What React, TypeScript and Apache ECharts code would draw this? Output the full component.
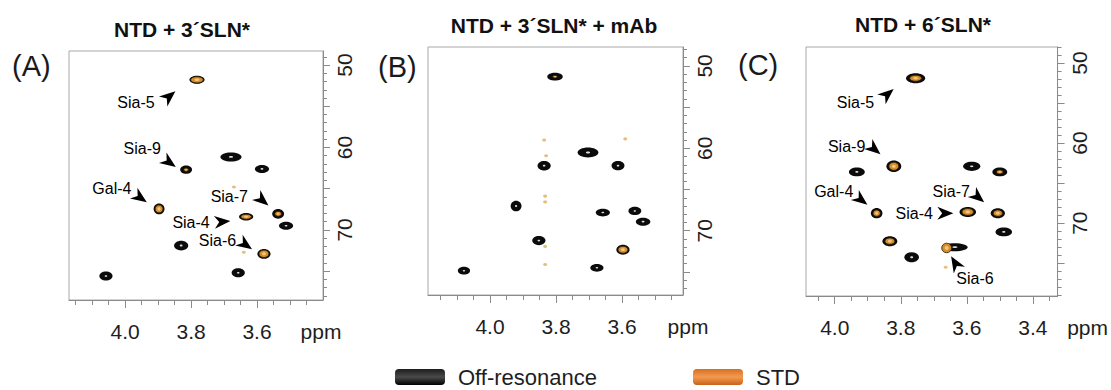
import React, { useEffect, useRef } from "react";
import * as echarts from "echarts";

const FONT = "'Liberation Sans', Arial, Helvetica, sans-serif";

// ---------- text ----------
const panelTitles = ["NTD + 3´SLN*", "NTD + 3´SLN* + mAb", "NTD + 6´SLN*"];
const panelLetters = ["(A)", "(B)", "(C)"];
const legendNames = ["Off-resonance", "STD"];

// ---------- axis ranges (1H ppm reversed, 13C ppm reversed) ----------
const xRangeA = [3.4, 4.17];
const xRangeB = [3.415, 4.188];
const xRangeC = [3.325, 4.087];
const yRangeA = [48.3, 78.5];
const yRangeB = [47.7, 77.8];
const yRangeC = [48.0, 79.1];

// ---------- tick values ----------
const xTicksAB = [3.45, 3.5, 3.55, 3.6, 3.65, 3.7, 3.75, 3.8, 3.85, 3.9, 3.95, 4.0, 4.05, 4.1, 4.15];
const xTicksC = [3.35, 3.4, 3.45, 3.5, 3.55, 3.6, 3.65, 3.7, 3.75, 3.8, 3.85, 3.9, 3.95, 4.0, 4.05];
const xLabelsAB = [3.6, 3.8, 4.0];
const xLabelsC = [3.4, 3.6, 3.8, 4.0];
const yTicks = [48, 49, 50, 51, 52, 53, 54, 55, 56, 57, 58, 59, 60, 61, 62, 63, 64, 65, 66, 67, 68, 69, 70, 71, 72, 73, 74, 75, 76, 77, 78, 79];
const yMajorTicks = [50, 55, 60, 65, 70, 75];
const yLabels = [50, 60, 70];

// ---------- peaks: [1H ppm, 13C ppm, 1H width ppm, 13C width ppm] ----------
const offResA = [
  [3.782, 51.8, 0.046, 0.97],
  [3.679, 61.15, 0.064, 1.1],
  [3.815, 62.7, 0.036, 1.0],
  [3.585, 62.6, 0.043, 0.97],
  [3.897, 67.45, 0.033, 1.3],
  [3.536, 68.05, 0.036, 1.2],
  [3.633, 68.4, 0.043, 0.9],
  [3.512, 69.5, 0.043, 0.97],
  [3.83, 71.9, 0.043, 1.2],
  [3.579, 72.9, 0.04, 1.2],
  [3.657, 75.2, 0.04, 1.1],
  [4.058, 75.6, 0.04, 1.1],
];
const stdA = [
  [3.782, 51.8, 0.038, 0.75],
  [3.815, 62.7, 0.014, 0.4],
  [3.897, 67.45, 0.024, 0.95],
  [3.536, 68.05, 0.02, 0.6],
  [3.633, 68.4, 0.032, 0.6],
  [3.579, 72.9, 0.03, 0.9],
];
const stdDotsA = [
  [3.67, 64.8],
  [3.64, 72.7],
];

const offResB = [
  [3.803, 51.3, 0.047, 0.93],
  [3.703, 60.5, 0.063, 1.2],
  [3.836, 62.1, 0.04, 1.15],
  [3.612, 62.1, 0.039, 1.1],
  [3.921, 67.0, 0.033, 1.3],
  [3.658, 67.8, 0.043, 0.93],
  [3.561, 67.6, 0.039, 1.0],
  [3.536, 68.9, 0.044, 0.97],
  [3.852, 71.2, 0.04, 1.1],
  [3.597, 72.3, 0.04, 1.2],
  [3.676, 74.5, 0.04, 0.93],
  [4.079, 74.85, 0.037, 0.93],
];
const stdB = [
  [3.803, 51.3, 0.014, 0.3],
  [3.597, 72.3, 0.03, 0.85],
];
const stdDotsB = [
  [3.836, 59.0],
  [3.83, 60.9],
  [3.833, 65.8],
  [3.833, 66.5],
  [3.833, 71.9],
  [3.833, 74.1],
  [3.59, 58.85],
];

const offResC = [
  [3.755, 51.9, 0.058, 1.25],
  [3.821, 62.9, 0.045, 1.45],
  [3.933, 63.6, 0.048, 1.1],
  [3.585, 62.9, 0.052, 1.15],
  [3.5, 63.6, 0.045, 1.1],
  [3.873, 68.75, 0.035, 1.3],
  [3.597, 68.6, 0.05, 1.25],
  [3.506, 68.75, 0.043, 1.25],
  [3.488, 71.1, 0.05, 1.1],
  [3.833, 72.25, 0.045, 1.25],
  [3.636, 73.0, 0.0775, 1.0],
  [3.767, 74.25, 0.044, 1.25],
];
const stdC = [
  [3.755, 51.9, 0.036, 0.75],
  [3.821, 62.9, 0.03, 1.0],
  [3.5, 63.6, 0.02, 0.5],
  [3.873, 68.75, 0.022, 0.8],
  [3.597, 68.6, 0.035, 0.85],
  [3.506, 68.75, 0.028, 0.8],
  [3.833, 72.25, 0.03, 0.8],
  [3.661, 73.1, 0.03, 1.2],
];
const stdDotsC = [[3.664, 75.5]];

// ---------- annotations ----------
const labelsA = [
  { name: "Sia-5", value: [3.967, 54.6] },
  { name: "Sia-9", value: [3.948, 60.1] },
  { name: "Gal-4", value: [4.04, 65.0] },
  { name: "Sia-7", value: [3.684, 65.9] },
  { name: "Sia-4", value: [3.8, 69.15] },
  { name: "Sia-6", value: [3.72, 71.3] },
];
// [1H, 13C, pointing angle in degrees]
const arrowsA = [
  [3.866, 53.8, 40],
  [3.866, 61.8, -35],
  [3.954, 66.1, -35],
  [3.584, 66.4, -40],
  [3.705, 69.0, 5],
  [3.635, 71.8, -35],
];
const labelsC = [
  { name: "Sia-5", value: [3.937, 54.9] },
  { name: "Sia-9", value: [3.964, 60.4] },
  { name: "Gal-4", value: [4.003, 66.1] },
  { name: "Sia-7", value: [3.647, 66.0] },
  { name: "Sia-4", value: [3.759, 68.75] },
  { name: "Sia-6", value: [3.575, 76.9] },
];
const arrowsC = [
  [3.84, 53.9, 40],
  [3.88, 60.75, -40],
  [3.92, 67.1, -38],
  [3.566, 66.75, -40],
  [3.665, 68.75, 0],
  [3.635, 75.0, 121],
];

const ARROW = "path://M0,0 L20,8 L0,16 L6,8 Z";

function peakRenderer(fill: string, core: string, coreRatio: number, stroke?: string) {
  return (_params: any, api: any) => {
    const x = api.value(0);
    const y = api.value(1);
    const c = api.coord([x, y]);
    const s = api.size([api.value(2), api.value(3)], [x, y]);
    const rx = Math.abs(s[0]) / 2;
    const ry = Math.abs(s[1]) / 2;
    return {
      type: "group",
      children: [
        {
          type: "ellipse",
          shape: { cx: c[0], cy: c[1], rx, ry },
          style: stroke ? { fill, stroke, lineWidth: 0.8 } : { fill },
        },
        {
          type: "ellipse",
          shape: { cx: c[0], cy: c[1], rx: Math.max(0.8, rx * coreRatio), ry: Math.max(0.6, ry * coreRatio) },
          style: { fill: core },
        },
      ],
    };
  };
}

export default function App() {
  const ref = useRef<HTMLDivElement>(null);

  useEffect(() => {
    document.body.style.margin = "0";
    const chart = echarts.init(ref.current!, undefined, { renderer: "svg" });

    const grids = [
      { left: 69, top: 51, width: 254, height: 249 },
      { left: 428, top: 47, width: 255, height: 248 },
      { left: 806, top: 47, width: 253, height: 249 },
    ];
    const xRanges = [xRangeA, xRangeB, xRangeC];
    const yRanges = [yRangeA, yRangeB, yRangeC];
    const xTicks = [xTicksAB, xTicksAB, xTicksC];
    const xLabels = [xLabelsAB, xLabelsAB, xLabelsC];
    const nameGaps = [-2, 5, 30];
    const offRes = [offResA, offResB, offResC];
    const std = [stdA, stdB, stdC];
    const stdDots = [stdDotsA, stdDotsB, stdDotsC];
    const labels = [labelsA, [], labelsC];
    const arrows = [arrowsA, [], arrowsC];
    const titleX = [182, 554, 923];
    const titleTop = [19, 15, 14];
    const letterX = [12, 378, 738];
    const letterTop = [51, 52, 50];

    const axisGrey = "#8a8a8a";
    const xAxis: any[] = [];
    const yAxis: any[] = [];
    const series: any[] = [];

    for (let i = 0; i < 3; i++) {
      xAxis.push({
        type: "value",
        gridIndex: i,
        position: "bottom",
        inverse: true,
        min: xRanges[i][0],
        max: xRanges[i][1],
        splitLine: { show: false },
        axisLine: { show: true, onZero: false, lineStyle: { color: axisGrey, width: 1 } },
        axisTick: { show: true, inside: false, length: 5, customValues: xTicks[i], lineStyle: { color: axisGrey } },
        axisLabel: {
          customValues: xLabels[i],
          formatter: (v: number) => v.toFixed(1),
          fontSize: 21,
          color: "#1e1e1e",
          fontFamily: FONT,
          margin: 21,
        },
        name: "ppm",
        nameLocation: "start",
        nameGap: nameGaps[i],
        nameMoveOverlap: false,
        nameTextStyle: { fontSize: 21, color: "#1e1e1e", fontFamily: FONT, align: "center", verticalAlign: "top", padding: [21, 0, 0, 0] },
      });
      xAxis.push({
        type: "value",
        gridIndex: i,
        position: "bottom",
        inverse: true,
        min: xRanges[i][0],
        max: xRanges[i][1],
        splitLine: { show: false },
        axisLine: { show: false, onZero: false },
        axisTick: { show: true, inside: false, length: 8, customValues: xLabels[i], lineStyle: { color: axisGrey } },
        axisLabel: { show: false },
      });
      yAxis.push({
        type: "value",
        gridIndex: i,
        position: "right",
        inverse: true,
        min: yRanges[i][0],
        max: yRanges[i][1],
        splitLine: { show: false },
        axisLine: { show: true, onZero: false, lineStyle: { color: axisGrey, width: 1 } },
        axisTick: { show: true, inside: false, length: 4, customValues: yTicks, lineStyle: { color: axisGrey } },
        axisLabel: {
          customValues: yLabels,
          rotate: 90,
          fontSize: 21,
          color: "#1e1e1e",
          fontFamily: FONT,
          margin: 11,
        },
      });
      yAxis.push({
        type: "value",
        gridIndex: i,
        position: "right",
        inverse: true,
        min: yRanges[i][0],
        max: yRanges[i][1],
        splitLine: { show: false },
        axisLine: { show: false, onZero: false },
        axisTick: { show: true, inside: false, length: 7, customValues: yMajorTicks, lineStyle: { color: axisGrey } },
        axisLabel: { show: false },
      });

      const xi = 2 * i;
      series.push({
        type: "custom",
        name: legendNames[0],
        coordinateSystem: "cartesian2d",
        xAxisIndex: xi,
        yAxisIndex: xi,
        clip: false,
        itemStyle: { color: "#111" },
        encode: { x: 0, y: 1 },
        renderItem: peakRenderer("#0b0b0b", "#dcdcdc", 0.2),
        data: offRes[i],
        z: 2,
      });
      series.push({
        type: "custom",
        name: legendNames[1],
        coordinateSystem: "cartesian2d",
        xAxisIndex: xi,
        yAxisIndex: xi,
        clip: false,
        itemStyle: { color: "#e07b30" },
        encode: { x: 0, y: 1 },
        renderItem: peakRenderer("#d48e2c", "#f3c67e", 0.4, "#2a1a06"),
        data: std[i],
        z: 3,
      });
      series.push({
        type: "scatter",
        name: "STD weak",
        xAxisIndex: xi,
        yAxisIndex: xi,
        symbol: "circle",
        symbolSize: [4, 3],
        itemStyle: { color: "#e2b266", opacity: 0.85 },
        data: stdDots[i],
        z: 3,
      });
      if (labels[i].length) {
        series.push({
          type: "scatter",
          name: "peak labels",
          xAxisIndex: xi,
          yAxisIndex: xi,
          symbolSize: 1,
          itemStyle: { color: "rgba(0,0,0,0)", opacity: 1 },
          label: { show: true, position: "inside", formatter: "{b}", fontSize: 16, color: "#000", opacity: 1, fontFamily: FONT },
          data: labels[i],
          z: 4,
        });
        series.push({
          type: "scatter",
          name: "peak arrows",
          xAxisIndex: xi,
          yAxisIndex: xi,
          symbol: ARROW,
          symbolSize: [16, 13],
          itemStyle: { color: "#000", opacity: 1 },
          data: arrows[i].map((a) => ({ value: [a[0], a[1]], symbolRotate: a[2] })),
          z: 4,
        });
      }
    }

    const titles: any[] = [];
    for (let i = 0; i < 3; i++) {
      titles.push({
        text: panelTitles[i],
        left: titleX[i],
        top: titleTop[i],
        textAlign: "center",
        padding: 0,
        textStyle: { fontSize: 21, fontWeight: "bold", color: "#111", fontFamily: FONT },
      });
      titles.push({
        text: panelLetters[i],
        left: letterX[i],
        top: letterTop[i],
        padding: 0,
        textStyle: { fontSize: 29, fontWeight: "normal", color: "#1a1a1a", fontFamily: FONT },
      });
    }

    chart.setOption({
      animation: false,
      backgroundColor: "#ffffff",
      title: titles,
      grid: grids.map((g) => ({ ...g, show: true, borderColor: "#a8a8a8", borderWidth: 1, backgroundColor: "transparent" })),
      xAxis,
      yAxis,
      legend: {
        left: 395,
        top: 366,
        padding: 0,
        itemWidth: 50,
        itemHeight: 16,
        itemGap: 96,
        icon: "roundRect",
        selectedMode: false,
        textStyle: { fontSize: 22, color: "#1e1e1e", fontFamily: FONT, padding: [0, 0, 0, 8] },
        data: [
          {
            name: legendNames[0],
            itemStyle: {
              color: new echarts.graphic.LinearGradient(0, 0, 0, 1, [
                { offset: 0, color: "#1c1c1c" },
                { offset: 0.5, color: "#4a4a4a" },
                { offset: 1, color: "#000000" },
              ]),
            },
          },
          {
            name: legendNames[1],
            itemStyle: {
              color: new echarts.graphic.LinearGradient(0, 0, 0, 1, [
                { offset: 0, color: "#d86f22" },
                { offset: 0.5, color: "#f39a50" },
                { offset: 1, color: "#c9611a" },
              ]),
            },
          },
        ],
      },
      series,
    });

    return () => chart.dispose();
  }, []);

  return <div ref={ref} style={{ width: 1111, height: 390 }} />;
}
